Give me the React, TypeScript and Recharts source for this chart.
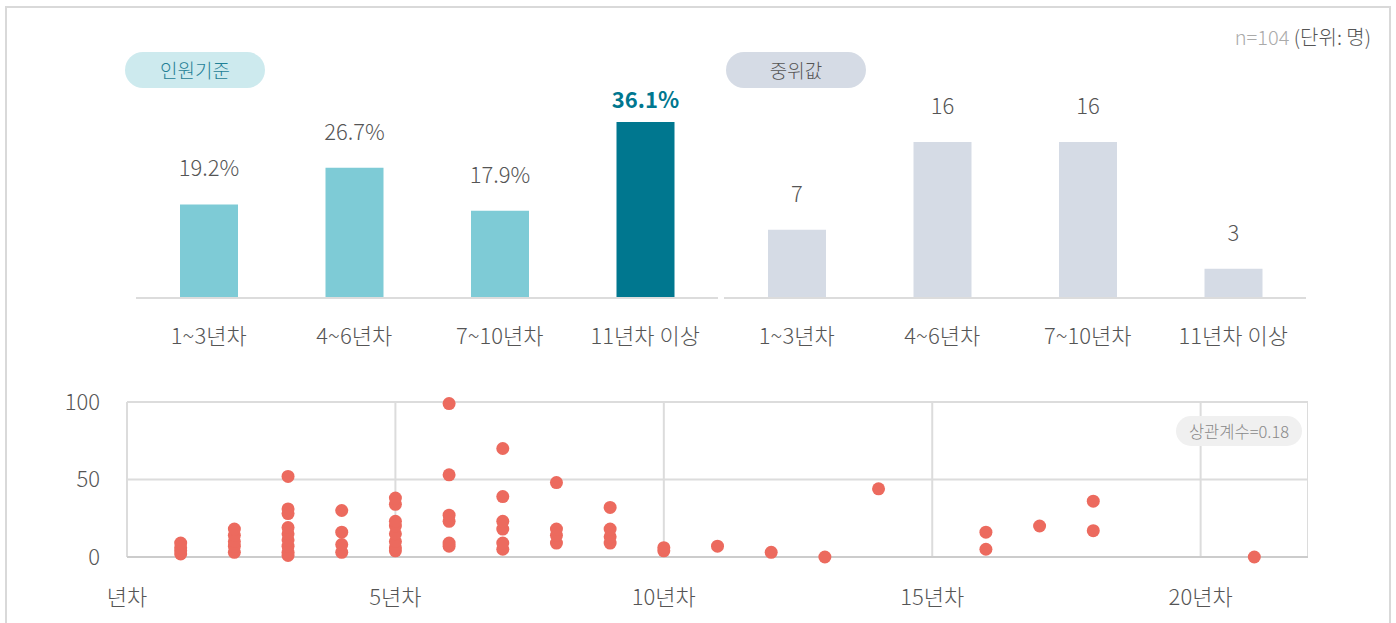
import React from 'react'
import {
  BarChart,
  Bar,
  Cell,
  XAxis,
  YAxis,
  LabelList,
  ScatterChart,
  Scatter,
  CartesianGrid,
} from 'recharts'

const categories = ['1~3년차', '4~6년차', '7~10년차', '11년차 이상']
const shareValues = [19.2, 26.7, 17.9, 36.1]
const medianValues = [7, 16, 16, 3]

// 년차 / 인원 pairs
const careerYears = [
  1, 1, 1, 1,
  2, 2, 2, 2, 2,
  3, 3, 3, 3, 3, 3, 3, 3, 3,
  4, 4, 4, 4,
  5, 5, 5, 5, 5, 5, 5, 5,
  6, 6, 6, 6, 6, 6,
  7, 7, 7, 7, 7, 7,
  8, 8, 8, 8,
  9, 9, 9, 9,
  10, 10, 11, 12, 13, 14, 16, 16, 17, 18, 18, 21,
]
const headcounts = [
  2, 4, 6, 9,
  3, 7, 10, 14, 18,
  1, 3, 7, 11, 15, 19, 28, 31, 52,
  3, 8, 16, 30,
  4, 6, 10, 15, 20, 23, 34, 38,
  7, 9, 23, 27, 53, 99,
  5, 9, 18, 23, 39, 70,
  9, 14, 18, 48,
  9, 13, 18, 32,
  4, 6, 7, 3, 0, 44, 5, 16, 20, 17, 36, 0,
]
const xTicks = [0, 5, 10, 15, 20]
const yTicks = [0, 50, 100]

const shareData = categories.map((name, i) => ({ name, value: shareValues[i] }))
const medianData = categories.map((name, i) => ({ name, value: medianValues[i] }))
const scatterData = careerYears.map((x, i) => ({ x, y: headcounts[i] }))

const TEXT = '#555'
const GRID = '#dcdcdc'
const FONT = "'Noto Sans CJK KR', 'Noto Sans', sans-serif"

const pctLabel = (props: any) => {
  const { x, y, width, index, value } = props
  const hl = index === 3
  return (
    <text
      x={x + width / 2}
      y={y - (hl ? 14 : 28)}
      textAnchor="middle"
      fontSize={22}
      fontWeight={hl ? 700 : 300}
      fill={hl ? '#00778f' : TEXT}
    >
      {`${Number(value).toFixed(1)}%`}
    </text>
  )
}

const numLabel = (props: any) => {
  const { x, y, width, value } = props
  return (
    <text x={x + width / 2} y={y - 28} textAnchor="middle" fontSize={22} fontWeight={300} fill={TEXT}>
      {value}
    </text>
  )
}

const dot = (props: any) => <circle cx={props.cx} cy={props.cy} r={6.5} fill="#ec6a5e" />

function Pill({ left, top, bg, color, children }: any) {
  return (
    <div
      style={{
        position: 'absolute',
        left,
        top,
        width: 140,
        height: 36,
        borderRadius: 18,
        background: bg,
        color,
        fontSize: 19,
        fontWeight: 300,
        lineHeight: '36px',
        textAlign: 'center',
      }}
    >
      {children}
    </div>
  )
}

function MiniBars({ data, max, left, colors, label }: any) {
  return (
    <div style={{ position: 'absolute', left, top: 60 }}>
      <BarChart width={582} height={298} data={data} margin={{ top: 43, right: 0, left: 0, bottom: 0 }}>
        <XAxis
          dataKey="name"
          height={60}
          tickLine={false}
          tickSize={0}
          tickMargin={30}
          axisLine={{ stroke: GRID, strokeWidth: 2 }}
          tick={{ fill: TEXT, fontSize: 22, fontWeight: 300 }}
        />
        <YAxis hide domain={[0, max]} />
        <Bar dataKey="value" barSize={58} isAnimationActive={false}>
          {data.map((_: any, i: number) => (
            <Cell key={i} fill={colors[i]} />
          ))}
          <LabelList dataKey="value" content={label} />
        </Bar>
      </BarChart>
    </div>
  )
}

export default function App() {
  return (
    <div
      style={{
        position: 'absolute',
        left: 0,
        top: 0,
        width: 1396,
        height: 623,
        overflow: 'hidden',
        background: '#fff',
        fontFamily: FONT,
      }}
    >
      <div
        style={{
          position: 'absolute',
          left: 5,
          top: 6,
          width: 1382,
          height: 700,
          border: '2px solid #d9d9d9',
        }}
      />
      <div style={{ position: 'absolute', right: 25, top: 22, fontSize: 20, fontWeight: 300, color: TEXT }}>
        <span style={{ color: '#aaa' }}>n=104</span> (단위: 명)
      </div>

      <MiniBars
        data={shareData}
        max={40}
        left={136}
        colors={['#7ecbd6', '#7ecbd6', '#7ecbd6', '#00778f']}
        label={pctLabel}
      />
      <MiniBars
        data={medianData}
        max={20}
        left={724}
        colors={['#d5dbe5', '#d5dbe5', '#d5dbe5', '#d5dbe5']}
        label={numLabel}
      />
      <Pill left={125} top={52} bg="#cdeaee" color="#1f8096">인원기준</Pill>
      <Pill left={726} top={52} bg="#d5dbe5" color={TEXT}>중위값</Pill>

      <div style={{ position: 'absolute', left: 40, top: 380 }}>
        <ScatterChart width={1268} height={243} margin={{ top: 22, right: 0, left: 0, bottom: 0 }}>
          <CartesianGrid stroke={GRID} strokeWidth={2} />
          <XAxis
            type="number"
            dataKey="x"
            domain={[0, 22]}
            ticks={xTicks}
            height={66}
            tickLine={false}
            tickSize={0}
            tickMargin={32}
            axisLine={{ stroke: '#ccc', strokeWidth: 2 }}
            tick={{ fill: TEXT, fontSize: 22, fontWeight: 300 }}
            tickFormatter={(v: number) => (v === 0 ? '년차' : `${v}년차`)}
          />
          <YAxis
            type="number"
            dataKey="y"
            domain={[0, 100]}
            ticks={yTicks}
            width={87}
            axisLine={false}
            tickLine={false}
            tickSize={0}
            tickMargin={27}
            tick={{ fill: TEXT, fontSize: 22, fontWeight: 300 }}
          />
          <Scatter data={scatterData} shape={dot} isAnimationActive={false} />
        </ScatterChart>
      </div>

      <div
        style={{
          position: 'absolute',
          left: 1176,
          top: 416,
          width: 126,
          height: 30,
          borderRadius: 15,
          background: '#f0f0f0',
          color: '#888',
          fontSize: 16.5,
          fontWeight: 300,
          lineHeight: '30px',
          textAlign: 'center',
        }}
      >
        상관계수=0.18
      </div>
    </div>
  )
}
